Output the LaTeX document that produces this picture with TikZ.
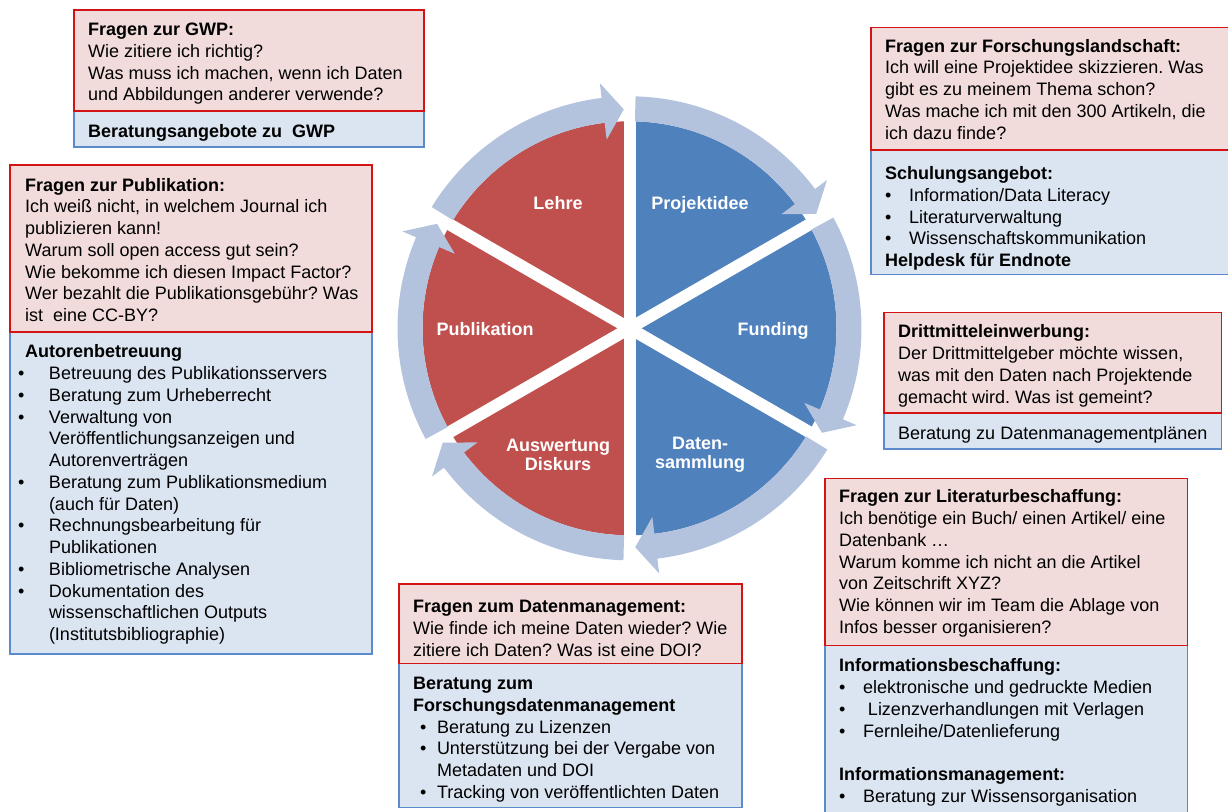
\documentclass[tikz,border=0pt]{standalone}
\usepackage{fontspec}
\setmainfont{Liberation Sans}
\frenchspacing
\usetikzlibrary{calc}
\definecolor{pinkfill}{HTML}{F2DCDB}
\definecolor{redline}{HTML}{D41414}
\definecolor{bluefill}{HTML}{DBE5F1}
\definecolor{blueline}{HTML}{5B8BCB}
\definecolor{piered}{HTML}{C0504D}
\definecolor{pieblue}{HTML}{4F81BD}
\definecolor{ringc}{HTML}{B3C3DE}
\newcommand\bul[2][0pt]{\makebox[23.8pt][l]{\hspace*{#1}•}#2}
\newcommand\ind{\hspace*{23.8pt}}
\tikzset{
  qbox/.style={fill=pinkfill, draw=redline, line width=1.4pt},
  abox/.style={fill=bluefill, draw=blueline, line width=1.4pt},
  txt/.style={anchor=north west, inner sep=0pt, align=left, text=black,
    font=\fontsize{18}{21.75}\selectfont},
  plabel/.style={text=white, align=center, inner sep=0pt,
    font=\fontsize{18}{19}\selectfont\bfseries},
  ringarrow/.style={fill=ringc}
}
\begin{document}
\begin{tikzpicture}[x=1pt,y=1pt]
\useasboundingbox (0,0) rectangle (1228,811);
\coordinate (C) at (629.5,482.7);
% pie
\fill[piered] (C) -- ++(90:207pt) arc[start angle=90,end angle=270,radius=207pt] -- cycle;
\fill[pieblue] (C) -- ++(-90:207pt) arc[start angle=-90,end angle=90,radius=207pt] -- cycle;
\foreach \a in {90,30,150}{
  \draw[white, line width=12pt] ($(C)+(\a:236pt)$) -- ($(C)+(\a+180:236pt)$);
}
% ring arrows
\foreach \s/\e in {148.5/91.5, 88.5/31.5, 28.5/-28.5, -31.5/-88.5, -91.5/-148.5, -151.5/-208.5}{
  \pgfmathsetmacro\b{\e+5.4}
  \fill[ringarrow, shift={(C)}] (\s:232pt) arc[start angle=\s, end angle=\b, radius=232pt]
     -- (\b:247pt) -- (\e:219pt) -- (\b:190pt) -- (\b:207pt)
     arc[start angle=\b, end angle=\s, radius=207pt] -- cycle;
}
% pie labels
\node[plabel, anchor=base] (lehre) at (558,601.5) {Lehre};
\node[plabel, anchor=base] (projekt) at (700,601.5) {Projektidee};
\node[plabel, anchor=base] (publ) at (485,475.5) {Publikation};
\node[plabel, anchor=base] (fund) at (773,475.5) {Funding};
\node[plabel] (ausw) at (558,356) {Auswertung\\Diskurs};
\node[plabel] (daten) at (700,356) {Daten-\\sammlung};

% GWP
\draw[abox] (74,664) rectangle (424,700);
\draw[qbox] (74,700) rectangle (424,801);
\node[txt] (gwpq) at (88,790.7) {\strut\textbf{Fragen zur GWP:}\\
Wie zitiere ich richtig?\\
Was muss ich machen, wenn ich Daten\\
und Abbildungen anderer verwende?};
\node[txt] (gwpa) at (88,688.5) {\strut\textbf{Beratungsangebote zu\ \ GWP}};

% Forschungslandschaft
\draw[abox] (871,536.7) rectangle (1232,661);
\draw[qbox] (871,661) rectangle (1232,783.5);
\node[txt] (forq) at (885,774.2) {\strut\textbf{Fragen zur Forschungslandschaft:}\\
Ich will eine Projektidee skizzieren. Was\\
gibt es zu meinem Thema schon?\\
Was mache ich mit den 300 Artikeln, die\\
ich dazu finde?};
\node[txt] (fora) at (885,646.9) {\strut\textbf{Schulungsangebot:}\\
\bul{Information/Data Literacy}\\
\bul{Literaturverwaltung}\\
\bul{Wissenschaftskommunikation}\\
\textbf{Helpdesk für Endnote}};

% Publikation
\draw[abox] (10,157) rectangle (372,479);
\draw[qbox] (10,479) rectangle (372,646);
\node[txt] (pubq) at (25,635.2) {\strut\textbf{Fragen zur Publikation:}\\
Ich weiß nicht, in welchem Journal ich\\
publizieren kann!\\
Warum soll open access gut sein?\\
Wie bekomme ich diesen Impact Factor?\\
Wer bezahlt die Publikationsgebühr? Was\\
ist\ \ eine CC-BY?};
\node[txt] (puba) at (25,468.5) {\strut\textbf{Autorenbetreuung}\\
\bul[-7pt]{Betreuung des Publikationsservers}\\
\bul[-7pt]{Beratung zum Urheberrecht}\\
\bul[-7pt]{Verwaltung von}\\
\ind Veröffentlichungsanzeigen und\\
\ind Autorenverträgen\\
\bul[-7pt]{Beratung zum Publikationsmedium}\\
\ind (auch für Daten)\\
\bul[-7pt]{Rechnungsbearbeitung für}\\
\ind Publikationen\\
\bul[-7pt]{Bibliometrische Analysen}\\
\bul[-7pt]{Dokumentation des}\\
\ind wissenschaftlichen Outputs\\
\ind (Institutsbibliographie)};

% Drittmittel
\draw[abox] (884,362) rectangle (1221.5,398);
\draw[qbox] (884,398) rectangle (1221.5,498.5);
\node[txt] (dritq) at (898,488.5) {\strut\textbf{Drittmitteleinwerbung:}\\
Der Drittmittelgeber möchte wissen,\\
was mit den Daten nach Projektende\\
gemacht wird. Was ist gemeint?};
\node[txt] (drita) at (898,386.9) {\strut Beratung zu Datenmanagementplänen};

% Literatur
\draw[abox] (825,-5) rectangle (1187.5,165.5);
\draw[qbox] (825,165.5) rectangle (1187.5,332.5);
\node[txt] (litq) at (839,323.5) {\strut\textbf{Fragen zur Literaturbeschaffung:}\\
Ich benötige ein Buch/ einen Artikel/ eine\\
Datenbank …\\
Warum komme ich nicht an die Artikel\\
von Zeitschrift XYZ?\\
Wie können wir im Team die Ablage von\\
Infos besser organisieren?};
\node[txt] (lita) at (839,154.5) {\strut\textbf{Informationsbeschaffung:}\\
\bul{elektronische und gedruckte Medien}\\
\bul{\hspace*{5pt}Lizenzverhandlungen mit Verlagen}\\
\bul{Fernleihe/Datenlieferung}\\
\strut\\
\textbf{Informationsmanagement:}\\
\bul{Beratung zur Wissensorganisation}};

% Datenmanagement
\draw[abox] (399,3.5) rectangle (742,147.5);
\draw[qbox] (399,147.5) rectangle (742,227);
\node[txt] (datq) at (413,213.5) {\strut\textbf{Fragen zum Datenmanagement:}\\
Wie finde ich meine Daten wieder? Wie\\
zitiere ich Daten? Was ist eine DOI?};
\node[txt] (data) at (413,136.9) {\strut\textbf{Beratung zum}\\
\textbf{Forschungsdatenmanagement}\\
\bul[7pt]{Beratung zu Lizenzen}\\
\bul[7pt]{Unterstützung bei der Vergabe von}\\
\ind Metadaten und DOI\\
\bul[7pt]{Tracking von veröffentlichten Daten}};
\end{tikzpicture}
\end{document}
